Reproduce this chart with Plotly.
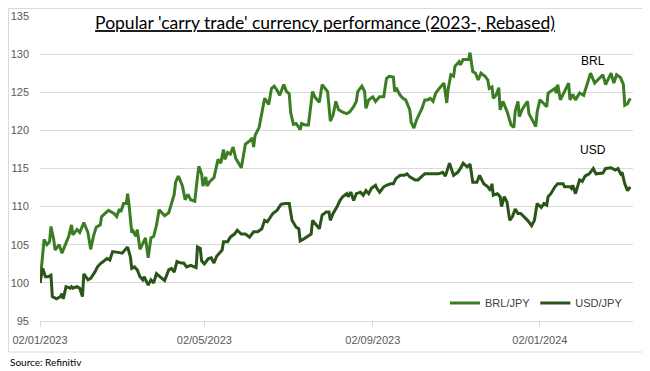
import plotly.graph_objects as go

# ---------------- data ----------------
brl_dates = [
    "2023-01-02","2023-01-05","2023-01-07","2023-01-09","2023-01-10","2023-01-12","2023-01-13","2023-01-16",
    "2023-01-18","2023-01-21","2023-01-23","2023-01-25","2023-01-26","2023-01-29","2023-01-31","2023-02-03",
    "2023-02-06","2023-02-08","2023-02-10","2023-02-12","2023-02-15","2023-02-16","2023-02-21","2023-02-25",
    "2023-02-27","2023-03-01","2023-03-02","2023-03-04","2023-03-06","2023-03-07","2023-03-08","2023-03-10",
    "2023-03-11","2023-03-13","2023-03-14","2023-03-16","2023-03-19","2023-03-20","2023-03-22","2023-03-24",
    "2023-03-26","2023-03-28","2023-03-30","2023-04-01","2023-04-03","2023-04-06","2023-04-08","2023-04-10",
    "2023-04-11","2023-04-13","2023-04-14","2023-04-16","2023-04-18","2023-04-20","2023-04-22","2023-04-25",
    "2023-04-27","2023-04-28","2023-04-30","2023-05-01","2023-05-03","2023-05-04","2023-05-06","2023-05-09",
    "2023-05-12","2023-05-14","2023-05-16","2023-05-17","2023-05-19","2023-05-21","2023-05-23","2023-05-25",
    "2023-05-29","2023-06-01","2023-06-04","2023-06-06","2023-06-07","2023-06-08","2023-06-11","2023-06-13",
    "2023-06-15","2023-06-18","2023-06-20","2023-06-22","2023-06-24","2023-06-26","2023-06-29","2023-07-01",
    "2023-07-03","2023-07-04","2023-07-06","2023-07-08","2023-07-11","2023-07-12","2023-07-15","2023-07-17",
    "2023-07-18","2023-07-20","2023-07-22","2023-07-25","2023-07-27","2023-07-31","2023-08-02","2023-08-04",
    "2023-08-06","2023-08-08","2023-08-11","2023-08-14","2023-08-16","2023-08-19","2023-08-21","2023-08-22",
    "2023-08-25","2023-08-27","2023-08-28","2023-08-30","2023-09-02","2023-09-04","2023-09-07","2023-09-10",
    "2023-09-12","2023-09-14","2023-09-17","2023-09-18","2023-09-19","2023-09-22","2023-09-24","2023-09-26",
    "2023-09-29","2023-09-30","2023-10-02","2023-10-04","2023-10-08","2023-10-10","2023-10-12","2023-10-14",
    "2023-10-16","2023-10-18","2023-10-21","2023-10-24","2023-10-26","2023-10-27","2023-10-29","2023-10-31",
    "2023-11-01","2023-11-04","2023-11-05","2023-11-07","2023-11-11","2023-11-12","2023-11-14","2023-11-16",
    "2023-11-18","2023-11-20","2023-11-23","2023-11-25","2023-11-26","2023-11-28","2023-11-29","2023-12-01",
    "2023-12-03","2023-12-04","2023-12-06","2023-12-09","2023-12-12","2023-12-14","2023-12-15","2023-12-17",
    "2023-12-18","2023-12-20","2023-12-22","2023-12-24","2023-12-25","2023-12-28","2023-12-30","2023-12-31",
    "2024-01-02","2024-01-05","2024-01-07","2024-01-08","2024-01-10","2024-01-13","2024-01-14","2024-01-15",
    "2024-01-17","2024-01-19","2024-01-21","2024-01-23","2024-01-24","2024-01-26","2024-01-28","2024-01-31",
    "2024-02-03","2024-02-06","2024-02-08","2024-02-11","2024-02-14","2024-02-17","2024-02-19","2024-02-23",
    "2024-02-25","2024-02-27","2024-03-01","2024-03-03","2024-03-04","2024-03-06","2024-03-08",
]
brl_values = [
    100.0,105.7,105.0,105.4,107.4,105.7,104.3,105.0,
    103.9,105.2,106.1,107.6,106.3,107.0,106.6,107.9,
    106.6,104.4,106.1,107.3,107.6,108.7,109.5,109.1,
    108.7,109.7,109.3,110.4,110.4,111.7,110.3,106.6,
    106.8,106.1,107.0,104.4,105.5,105.9,103.3,105.9,
    106.1,107.5,109.6,109.2,108.8,109.2,110.5,111.6,
    113.2,114.0,113.6,112.7,110.9,111.6,110.9,110.7,
    113.9,115.3,114.3,112.7,113.9,112.7,113.3,113.8,
    116.2,115.7,117.5,116.2,117.1,116.9,117.8,116.3,
    115.1,118.2,118.6,119.0,117.8,119.3,120.4,122.2,
    124.2,123.4,125.5,125.8,125.3,124.6,126.0,125.1,
    124.8,122.4,120.8,120.9,120.1,120.9,120.7,120.7,
    122.2,125.1,124.3,123.7,126.0,125.1,121.2,122.0,
    123.8,122.7,122.4,122.2,122.4,123.1,123.8,125.1,
    125.8,125.1,122.9,124.0,124.4,123.8,124.4,124.4,
    126.8,127.1,127.0,125.1,125.6,124.6,124.2,124.0,
    122.7,121.1,120.3,121.4,122.9,124.0,124.0,124.2,
    123.8,124.9,125.6,126.2,123.6,125.4,127.3,127.1,
    128.4,129.0,128.6,129.3,129.3,130.2,127.7,127.5,
    126.6,127.5,127.1,126.6,125.5,125.7,124.2,124.6,
    125.6,122.7,123.8,122.5,120.7,120.4,122.5,123.8,
    121.8,122.7,123.3,123.8,122.2,121.1,120.5,122.4,
    124.0,123.5,123.1,124.9,125.1,125.5,124.9,126.0,
    124.0,124.7,125.3,126.2,124.0,124.7,124.0,124.9,
    124.6,126.2,127.5,126.2,126.7,127.3,126.0,127.5,
    126.2,127.3,126.9,126.0,123.3,123.5,124.2,
]

usd_dates = [
    "2023-01-02","2023-01-04","2023-01-06","2023-01-08","2023-01-10","2023-01-11","2023-01-14","2023-01-17",
    "2023-01-18","2023-01-19","2023-01-21","2023-01-24","2023-01-25","2023-01-26","2023-01-29","2023-01-31",
    "2023-02-02","2023-02-03","2023-02-06","2023-02-08","2023-02-11","2023-02-13","2023-02-15","2023-02-17",
    "2023-02-20","2023-02-22","2023-02-24","2023-02-28","2023-03-03","2023-03-05","2023-03-07","2023-03-09",
    "2023-03-10","2023-03-12","2023-03-14","2023-03-16","2023-03-18","2023-03-19","2023-03-21","2023-03-22",
    "2023-03-24","2023-03-26","2023-03-28","2023-03-31","2023-04-03","2023-04-06","2023-04-08","2023-04-10",
    "2023-04-12","2023-04-15","2023-04-17","2023-04-19","2023-04-22","2023-04-26","2023-04-27","2023-04-29",
    "2023-04-30","2023-05-02","2023-05-05","2023-05-07","2023-05-09","2023-05-11","2023-05-14","2023-05-15",
    "2023-05-16","2023-05-19","2023-05-21","2023-05-24","2023-05-26","2023-05-29","2023-06-01","2023-06-04",
    "2023-06-07","2023-06-10","2023-06-13","2023-06-15","2023-06-17","2023-06-21","2023-06-24","2023-06-27",
    "2023-06-30","2023-07-03","2023-07-05","2023-07-08","2023-07-10","2023-07-11","2023-07-13","2023-07-16",
    "2023-07-19","2023-07-20","2023-07-22","2023-07-25","2023-07-27","2023-07-30","2023-08-01","2023-08-02",
    "2023-08-04","2023-08-07","2023-08-09","2023-08-11","2023-08-14","2023-08-15","2023-08-17","2023-08-19",
    "2023-08-21","2023-08-24","2023-08-26","2023-08-28","2023-08-30","2023-09-01","2023-09-04","2023-09-05",
    "2023-09-07","2023-09-10","2023-09-12","2023-09-15","2023-09-17","2023-09-19","2023-09-22","2023-09-25",
    "2023-09-27","2023-09-29","2023-10-03","2023-10-05","2023-10-08","2023-10-10","2023-10-13","2023-10-15",
    "2023-10-20","2023-10-23","2023-10-25","2023-10-28","2023-10-31","2023-11-03","2023-11-05","2023-11-07",
    "2023-11-10","2023-11-12","2023-11-14","2023-11-17","2023-11-19","2023-11-22","2023-11-25","2023-11-27",
    "2023-11-28","2023-11-29","2023-12-02","2023-12-04","2023-12-05","2023-12-07","2023-12-09","2023-12-11",
    "2023-12-13","2023-12-15","2023-12-17","2023-12-19","2023-12-22","2023-12-24","2023-12-27","2023-12-29",
    "2023-12-31","2024-01-03","2024-01-05","2024-01-07","2024-01-08","2024-01-10","2024-01-13","2024-01-15",
    "2024-01-19","2024-01-20","2024-01-24","2024-01-25","2024-01-26","2024-01-28","2024-01-31","2024-02-02",
    "2024-02-04","2024-02-07","2024-02-10","2024-02-12","2024-02-17","2024-02-19","2024-02-23","2024-02-26",
    "2024-02-28","2024-03-01","2024-03-02","2024-03-04","2024-03-06","2024-03-07","2024-03-08",
]
usd_values = [
    100.0,101.9,100.8,100.8,101.0,98.2,97.9,98.2,
    98.6,97.9,99.5,99.3,99.5,99.3,99.5,99.3,
    98.2,101.2,100.4,100.6,101.4,102.1,102.5,102.8,
    103.2,103.0,104.1,104.0,103.9,104.3,104.7,103.4,
    101.9,102.1,101.7,100.8,100.4,100.8,99.9,99.7,
    100.4,100.0,101.2,100.8,100.3,101.7,101.9,101.4,
    102.8,102.6,102.6,102.1,102.3,102.0,104.7,104.5,
    102.9,102.5,103.2,103.3,102.6,103.5,104.1,104.3,
    105.4,105.4,106.0,106.4,106.9,106.4,106.4,106.0,
    106.7,106.7,107.1,108.2,108.0,109.1,109.5,110.3,
    110.4,110.4,108.2,107.3,107.1,105.5,105.7,106.0,
    106.4,108.2,107.8,107.1,108.9,109.3,109.3,108.2,
    109.1,110.0,110.8,111.3,111.7,111.3,111.9,110.8,
    111.7,111.9,111.5,112.1,111.7,112.4,112.8,112.4,
    111.9,112.6,112.8,113.0,113.0,113.7,114.1,114.1,
    114.3,113.9,113.5,113.5,114.0,114.3,114.3,114.3,
    114.3,114.5,114.0,115.7,114.1,114.5,115.0,115.7,
    115.2,115.6,113.2,113.2,114.1,113.0,112.6,112.1,
    113.0,111.5,111.7,111.3,110.0,111.3,110.6,108.2,
    108.7,109.7,109.1,109.1,108.6,108.2,107.5,108.2,
    110.4,109.9,110.4,110.2,111.3,111.7,112.6,113.0,
    113.0,112.6,112.6,112.4,112.8,111.7,113.5,113.3,
    114.0,114.3,115.0,114.3,114.4,115.0,115.1,114.8,
    115.0,114.3,114.5,113.0,112.1,112.3,112.6,
]

series_names = ["BRL/JPY", "USD/JPY"]
x_tick_vals = ["2023-01-02", "2023-05-02", "2023-09-02", "2024-01-02"]
x_tick_text = ["02/01/2023", "02/05/2023", "02/09/2023", "02/01/2024"]
y_tick_vals = [95, 100, 105, 110, 115, 120, 125, 130, 135]
title_text = "Popular 'carry trade' currency performance (2023-, Rebased)"
source_text = "Source: Refinitiv"

# ---------------- figure ----------------
# The page body has an 8px margin, so the figure sits at (8, 8) in the 650x371 window.
OFF = 8
W, H = 650 - OFF, 371 - OFF
PLOT_L, PLOT_R, PLOT_T, PLOT_B = 40, 633, 16, 321   # plot area in window pixels
L, T = PLOT_L - OFF, PLOT_T - OFF
R, B = 650 - PLOT_R, 371 - PLOT_B
pw, ph = PLOT_R - PLOT_L, PLOT_B - PLOT_T

def px_x(px):
    return (px - PLOT_L) / pw

def px_y(py):
    return (PLOT_B - py) / ph

fig = go.Figure()
fig.add_trace(go.Scatter(x=brl_dates, y=brl_values, name=series_names[0], mode="lines",
                         line=dict(color="#3B7D23", width=3)))
fig.add_trace(go.Scatter(x=usd_dates, y=usd_values, name=series_names[1], mode="lines",
                         line=dict(color="#2A5518", width=3)))

tick_font = dict(family="Liberation Sans, Arial, sans-serif", size=11, color="#595959")

fig.update_layout(
    width=W, height=H,
    margin=dict(l=L, r=R, t=T, b=B, pad=0, autoexpand=False),
    paper_bgcolor="white", plot_bgcolor="white",
    showlegend=True,
    legend=dict(orientation="h", x=px_x(628), y=px_y(303), xanchor="right", yanchor="middle",
                font=dict(family="Liberation Sans, Arial, sans-serif", size=11, color="#404040"),
                bgcolor="rgba(0,0,0,0)", itemwidth=30, tracegroupgap=0),
    xaxis=dict(type="date", range=["2023-01-02", "2024-03-10"], automargin=False,
               tickvals=x_tick_vals, ticktext=x_tick_text, tickfont=tick_font,
               showgrid=False, showline=True, linecolor="#D9D9D9", linewidth=1,
               ticks="outside", ticklen=5, tickcolor="#D9D9D9", zeroline=False,
               ticklabelstandoff=4),
    yaxis=dict(range=[95, 135], tickvals=y_tick_vals, tickfont=tick_font, automargin=False,
               showgrid=True, gridcolor="#D9D9D9", gridwidth=1, zeroline=False,
               showline=False, ticks="", ticklabelstandoff=10),
    title=dict(text="<u>" + title_text + "</u>", x=px_x(325), xref="paper", xanchor="center",
               y=px_y(23), yref="paper", yanchor="middle", automargin=False,
               font=dict(family="Lato, Open Sans, sans-serif", size=17.5, color="#000000")),
)

fig.add_annotation(text="BRL", xref="paper", yref="paper", x=px_x(593), y=px_y(61),
                   showarrow=False, xanchor="center", yanchor="middle",
                   font=dict(family="Liberation Sans, Arial, sans-serif", size=12, color="#000000"))
fig.add_annotation(text="USD", xref="paper", yref="paper", x=px_x(593), y=px_y(150),
                   showarrow=False, xanchor="center", yanchor="middle",
                   font=dict(family="Liberation Sans, Arial, sans-serif", size=12, color="#000000"))
fig.add_annotation(text=source_text, xref="paper", yref="paper", x=px_x(OFF), y=px_y(362),
                   showarrow=False, xanchor="left", yanchor="middle",
                   font=dict(family="Lato, sans-serif", size=10, color="#000000"))

# chart border (clamped to the figure's own edges)
fig.add_shape(type="rect", xref="paper", yref="paper",
              x0=px_x(OFF + 0.5), x1=px_x(645), y0=px_y(352), y1=px_y(OFF + 0.5),
              line=dict(color="#D9D9D9", width=1), fillcolor="rgba(0,0,0,0)", layer="below")

fig.write_html("out.html")
